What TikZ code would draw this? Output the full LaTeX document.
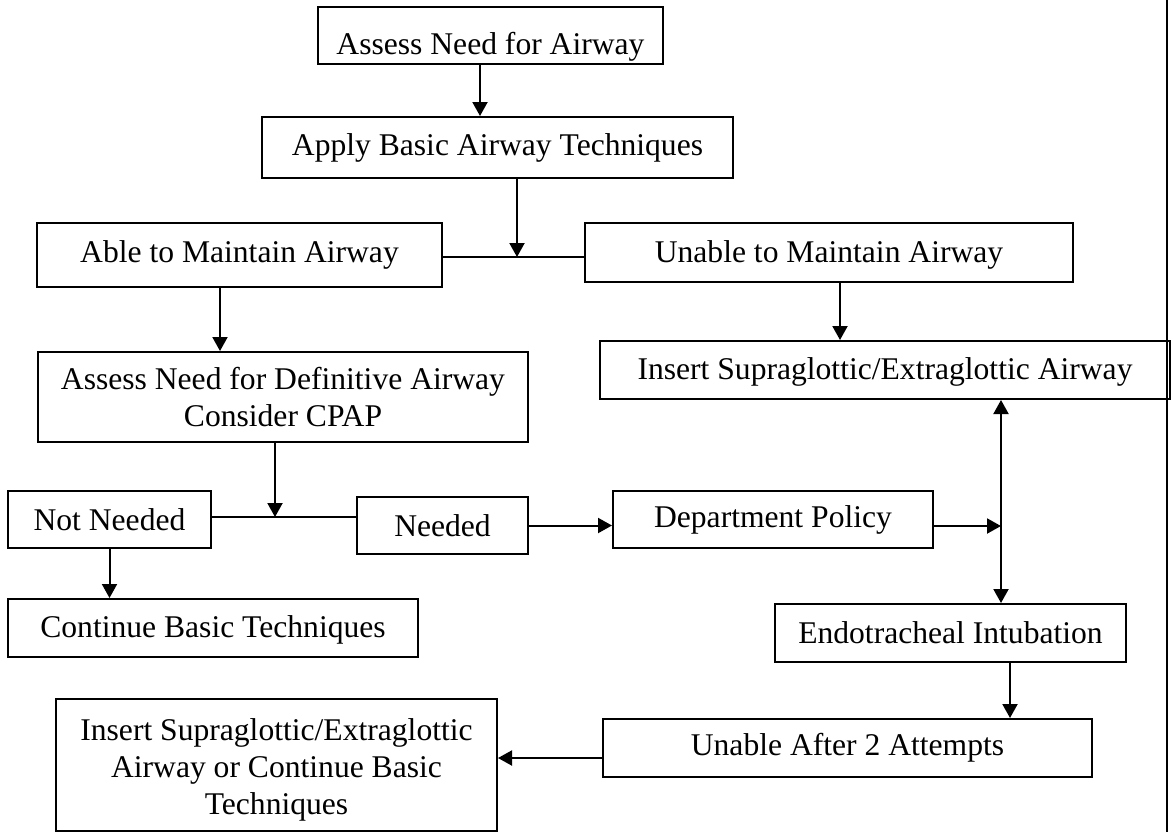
\documentclass[tikz,border=0pt]{standalone}
\usepackage{fontspec}
\setmainfont{Liberation Serif}
\usetikzlibrary{arrows.meta}

\tikzset{
  stepbox/.style={draw, line width=1pt, rectangle, inner sep=0pt, align=center,
    font=\fontsize{15.8}{18.5}\selectfont},
  flow/.style={line width=1pt, -{Triangle[length=7pt,width=7.5pt]}},
  both/.style={line width=1pt, {Triangle[length=7pt,width=7.5pt]}-{Triangle[length=7pt,width=7.5pt]}},
  plain/.style={line width=1pt}
}

\begin{document}
\begin{tikzpicture}[x=0.5pt,y=-0.5pt]
    \useasboundingbox (0,0) rectangle (1173,832);
    \node[stepbox, minimum width=172.5pt, minimum height=28.5pt] (assess) at (490.5,35.5) {\rule{0pt}{22.5pt}Assess Need for Airway};
    \node[stepbox, minimum width=235.5pt, minimum height=30.5pt] (apply) at (497.5,147.5) {Apply Basic Airway Techniques};
    \node[stepbox, minimum width=202.5pt, minimum height=32pt] (able) at (239.5,255) {Able to Maintain Airway};
    \node[stepbox, minimum width=244pt, minimum height=29.5pt] (unable) at (829,252.5) {\rule{0pt}{13pt}Unable to Maintain Airway};
    \node[stepbox, minimum width=285pt, minimum height=29pt] (insert) at (885,370) {\rule{0pt}{13pt}Insert Supraglottic/Extraglottic Airway};
    \node[stepbox, minimum width=245pt, minimum height=45pt] (defin) at (283,397) {Assess Need for Definitive Airway\\Consider CPAP};
    \node[stepbox, minimum width=101.5pt, minimum height=28.5pt] (notneeded) at (109.5,519.5) {Not Needed};
    \node[stepbox, minimum width=85.5pt, minimum height=28.5pt] (needed) at (442.5,525.5) {Needed};
    \node[stepbox, minimum width=160pt, minimum height=28.5pt] (dept) at (773,519.5) {Department Policy};
    \node[stepbox, minimum width=205pt, minimum height=29pt] (cont) at (213,628) {\rule{0pt}{13pt}Continue Basic Techniques};
    \node[stepbox, minimum width=175.5pt, minimum height=29pt] (endo) at (950.5,633) {Endotracheal Intubation};
    \node[stepbox, minimum width=244.5pt, minimum height=29pt] (after) at (847.5,748) {Unable After 2 Attempts};
    \node[stepbox, minimum width=220.5pt, minimum height=66pt] (final) at (276.5,765) {\rule{0pt}{16pt}Insert Supraglottic/Extraglottic\\Airway or Continue Basic\\Techniques};

    \coordinate (j1) at (517,257);
    \coordinate (j2) at (275,517);
    \coordinate (j3) at (1001,526);
    \coordinate (x1) at (480,0);
    \coordinate (x2) at (840,0);
    \coordinate (x3) at (220,0);
    \coordinate (x4) at (1010,0);
    \coordinate (y1) at (0,758);

    \draw[flow] (assess.south -| x1) to (apply.north -| x1);
    \draw[plain] (able.east |- j1) to (unable.west |- j1);
    \draw[flow] (apply.south -| j1) to (j1);
    \draw[flow] (unable.south -| x2) to (insert.north -| x2);
    \draw[flow] (able.south -| x3) to (defin.north -| x3);
    \draw[plain] (notneeded.east |- j2) to (needed.west |- j2);
    \draw[flow] (defin.south -| j2) to (j2);
    \draw[flow] (needed.east) to (needed.east -| dept.west);
    \draw[flow] (dept.east |- j3) to (j3);
    \draw[both] (insert.south -| j3) to (endo.north -| j3);
    \draw[flow] (notneeded.south) to (notneeded.south |- cont.north);
    \draw[flow] (endo.south -| x4) to (after.north -| x4);
    \draw[flow] (after.west |- y1) to (final.east |- y1);
    \draw[plain] (1167,0) to (1167,832);
\end{tikzpicture}
\end{document}
